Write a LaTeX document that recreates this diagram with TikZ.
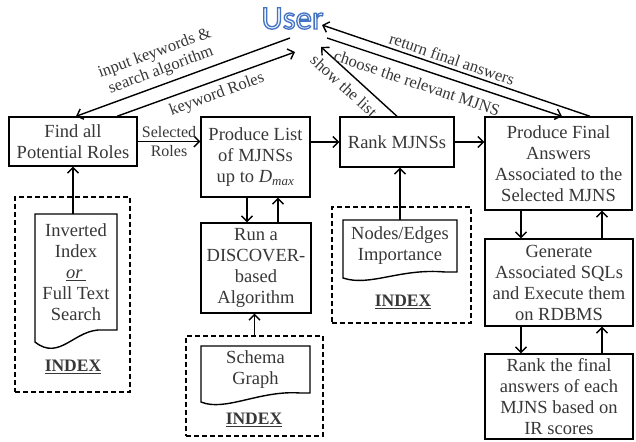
\documentclass[tikz,border=0pt]{standalone}
\usepackage{fontspec}
\setmainfont{Liberation Serif}
\newfontfamily\userfont{Carlito}
\usetikzlibrary{arrows.meta,calc}
\definecolor{userfill}{RGB}{236,242,250}
\definecolor{txt}{RGB}{55,55,55}
\newcommand{\outlineword}[1]{\textcolor{userfill}{\special{pdf:literal direct 2 Tr 1.3 w 0.27 0.45 0.77 RG}#1\special{pdf:literal direct 0 Tr}}}
\begin{document}
\begin{tikzpicture}[x=1pt,y=-1pt,
  box/.style={draw, line width=1.4pt, align=center, inner sep=0pt, text=txt,
    font=\fontsize{18.5}{21}\selectfont},
  docnode/.style={align=center, inner sep=0pt, text=txt, font=\fontsize{18.5}{21}\selectfont},
  docline/.style={draw, line width=1.4pt, line join=miter},
  dashbox/.style={draw, line width=1.4pt, dash pattern=on 5pt off 3pt, inner sep=0pt},
  idx/.style={font=\fontsize{17.5}{19}\bfseries\selectfont, text=txt, inner sep=0pt},
  arr/.style={line width=1.4pt, -{Straight Barb[length=5.5pt,width=11pt,line width=1.4pt]}},
  lbl/.style={font=\fontsize{16.5}{18}\selectfont, text=txt, align=center, inner sep=0pt}]
\useasboundingbox (0,0) rectangle (636,441);

% User
\node[inner sep=0pt, font=\userfont\fontsize{33}{33}\selectfont] (user) at (292.5,18.5)
  {\outlineword{User}};

% Process boxes
\node[box, minimum width=128, minimum height=49] (find) at (73,141.5) {Find all\\Potential Roles};
\node[box, minimum width=109, minimum height=80] (plist) at (255.5,157)
  {Produce List\\of MJNSs\\up to \textit{D\textsubscript{max}}};
\node[box, minimum width=114, minimum height=50] (rank) at (397,142) {Rank MJNSs};
\node[box, minimum width=147, minimum height=93] (pfinal) at (558.5,163.5)
  {Produce Final\\Answers\\Associated to the\\Selected MJNS};
\node[box, minimum width=148, minimum height=87] (gen) at (559,282.5)
  {Generate\\Associated SQLs\\and Execute them\\on RDBMS};
\node[box, minimum width=148, minimum height=85] (rfinal) at (559,396.5)
  {Rank the final\\answers of each\\MJNS based on\\IR scores};
\node[box, minimum width=110, minimum height=90] (run) at (256,268)
  {Run a\\DISCOVER-\\based\\Algorithm};

% Index groups (dashed)
\node[dashbox, minimum width=115, minimum height=195] (d1) at (72.5,294.5) {};
\node[dashbox, minimum width=137, minimum height=100] (d2) at (254.5,386) {};
\node[dashbox, minimum width=139, minimum height=116] (d3) at (401.5,265) {};

% Documents
\draw[docline] (117,330) -- (117,214) -- (35,214) -- (35,342)
  .. controls (60,362) and (75,328) .. (103,330) -- cycle;
\node[docnode, minimum width=82, minimum height=116] (inv) at (76,272)
  {Inverted\\Index\\\underline{\textit{or}\,}\\Full Text\\Search};
\draw[docline] (310,393) -- (310,346) -- (201,346) -- (201,402)
  .. controls (225,412) and (260,390) .. (300,393) -- cycle;
\node[docnode, minimum width=109, minimum height=47] (sch) at (255.5,369.5) {Schema\\Graph};
\draw[docline] (457,272) -- (457,220) -- (343,220) -- (343,278)
  .. controls (370,287) and (400,268) .. (445,272) -- cycle;
\node[docnode, minimum width=114, minimum height=52] (nie) at (400,246) {Nodes/Edges\\Importance};

\node[idx] (i1) at (73,367) {\underline{INDEX}};
\node[idx] (i2) at (254,420) {\underline{INDEX}};
\node[idx] (i3) at (403,302) {\underline{INDEX}};

% Connector end points at the user
\coordinate (uIn) at (290,38);
\coordinate (uKw) at (295,52);
\coordinate (uShow) at (321,47);
\coordinate (uChoose) at (327,38);
\coordinate (uRet) at (322,25);

% User interactions
\draw[arr] (uIn) -- ($(find.north)+(3,0)$);
\draw[arr] ($(find.north)+(44,0)$) -- (uKw);
\draw[arr] (rank.north) -- (uShow);
\draw[arr] (uChoose) -- ($(pfinal.north)+(3.5,0)$);
\draw[arr] ($(pfinal.north)+(31.5,0)$) -- (uRet);

\node[lbl, rotate=20.3] at (158,62) {input keywords \&\\search algorithm};
\node[lbl, rotate=20] at (217,95) {keyword Roles};
\node[lbl, rotate=-42.6] at (344,86) {show the list};
\node[lbl, rotate=-18.6] at (417,83) {choose the relevant MJNS};
\node[lbl, rotate=-18.9] at (452,59) {return final answers};

% Main flow
\draw[arr] (find.east) -- (find.east -| plist.west)
  node[midway, lbl, font=\fontsize{16}{19}\selectfont] {Selected\\Roles};
\draw[arr] (rank.west -| plist.east) -- (rank.west);
\draw[arr] (rank.east) -- (rank.east -| pfinal.west);

% Vertical links
\coordinate (pd) at ($(plist.south)+(-8.5,0)$);
\coordinate (pu) at ($(plist.south)+(22.5,0)$);
\draw[arr] (pd) -- (pd |- run.north);
\draw[arr] (pu |- run.north) -- (pu);
\draw[arr] (d2.north) -- (d2.north |- run.south);
\draw[arr] (nie.north) -- (nie.north |- rank.south);
\draw[arr] (inv.north -| find.south) -- (find.south);

\coordinate (fd) at ($(pfinal.south)+(-37.5,0)$);
\coordinate (fu) at ($(pfinal.south)+(43.5,0)$);
\draw[arr] (fd) -- (fd |- gen.north);
\draw[arr] (fu |- gen.north) -- (fu);
\draw[arr] (gen.south -| fd) -- (rfinal.north -| fd);
\draw[arr] (rfinal.north -| fu) -- (gen.south -| fu);
\end{tikzpicture}
\end{document}
